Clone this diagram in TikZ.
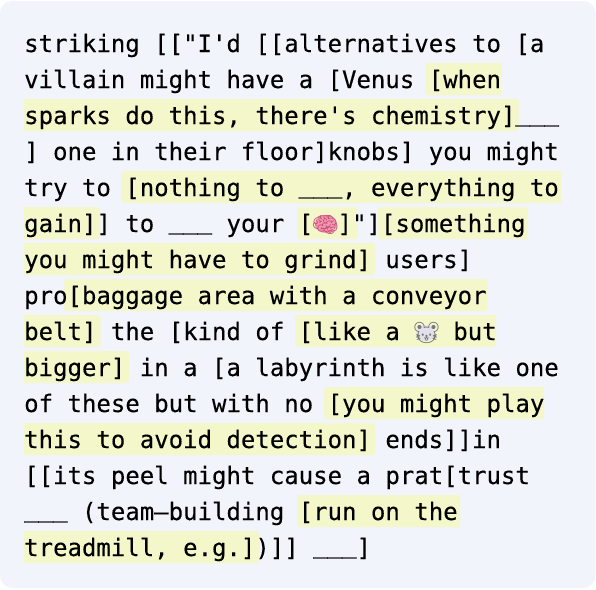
\documentclass[tikz,border=0pt]{standalone}
\usepackage{fontspec}
\newfontfamily\codefont[FakeBold=0.25]{DejaVu Sans Mono}
\newfontfamily\emojifont{Noto Emoji}
\definecolor{panelbg}{RGB}{241,244,250}
\definecolor{hlbg}{RGB}{243,247,201}
\definecolor{brainpink}{RGB}{200,80,120}
\definecolor{brainfill}{RGB}{240,150,175}
\definecolor{mousegray}{RGB}{120,116,126}
\definecolor{mousefill}{RGB}{226,224,232}
\newcommand{\blank}{\raisebox{3.2pt}{\addfontfeature{FakeBold=1.5}\_\_\_}}
\newcommand{\brain}{\makebox[24.5pt]{\emojifont\fontsize{22}{22}\selectfont\color{brainpink}🧠}}
\newcommand{\mouse}{\makebox[24.5pt]{\emojifont\fontsize{22}{22}\selectfont\color{mousegray}🐭}}
\tikzset{
  codeline/.style={anchor=base west,inner sep=0pt,text=black,font=\codefont\fontsize{24}{36}\selectfont\frenchspacing},
  hlrun/.style={fill=hlbg}
}
\begin{document}
\begin{tikzpicture}[x=1pt,y=-1pt]
\useasboundingbox (0,0) rectangle (596,589);
\fill[panelbg,rounded corners=12] (0,1) rectangle (595.5,588);
\foreach \n/\a/\b/\l/\r in {2/425.5/501/3/0,3/24/518.7/0/3,5/121.3/561/3/0,6/24/100/0/3,6/297/357.7/3/3,
  6/378/527.3/3/0,7/24/375/0/3,8/64/487/3/0,9/24/100.5/0/3,9/295/496/3/0,10/24/129/0/3,
  11/324/544/3/0,12/24/375/0/3,14/297/460/3/0,15/24/259/0/3}{
  \fill[hlrun] ({(\a+\b)/2},36*\n-9) [rounded corners=\r] -- (\b,36*\n-9) -- (\b,36*\n+23) -- ({(\a+\b)/2},36*\n+23)
    [rounded corners=\l] -- (\a,36*\n+23) -- (\a,36*\n-9) -- cycle;
}
\fill[brainfill] (326,224) ellipse (11 and 9);
\fill[mousefill] (425.5,333) ellipse (9 and 8);
\foreach \n/\t in {
  1/{striking [["I'd [[alternatives to [a},
  2/{villain might have a [Venus [when},
  3/{sparks do this, there's chemistry]\blank},
  4/{] one in their floor]knobs] you might},
  5/{try to [nothing to \blank, everything to},
  6/{gain]] to \blank\ your [\brain]"][something},
  7/{you might have to grind] users]},
  8/{pro[baggage area with a conveyor},
  9/{belt] the [kind of [like a \mouse\ but},
  10/{bigger] in a [a labyrinth is like one},
  11/{of these but with no [you might play},
  12/{this to avoid detection] ends]]in},
  13/{[[its peel might cause a prat[trust},
  14/{\blank\ (team—building [run on the},
  15/{treadmill, e.g.])]] \blank]}}{
  \node[codeline] (line\n) at (24,36*\n+16) {\t};
}
\end{tikzpicture}
\end{document}
